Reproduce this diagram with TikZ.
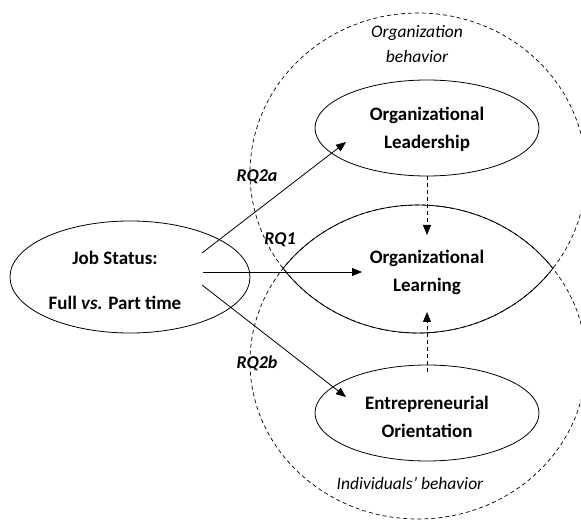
\documentclass[tikz,border=0pt]{standalone}
\usepackage{fontspec}
\setmainfont{Carlito}
\usetikzlibrary{arrows.meta,shapes.geometric,calc}

\begin{document}
\begin{tikzpicture}[x=1pt,y=-1pt,
  shape box/.style={draw, ellipse, line width=0.8pt, inner sep=0pt},
  title/.style={font=\bfseries\fontsize{19}{28}\selectfont, align=center, inner sep=0pt},
  link/.style={-{Triangle[length=10pt,width=8pt]}, line width=0.8pt},
  dlink/.style={link, dash pattern=on 4pt off 3pt},
  zone/.style={line width=0.7pt, dash pattern=on 4pt off 3pt},
  rim/.style={line width=0.8pt},
  rq/.style={font=\bfseries\itshape\fontsize{18}{20}\selectfont, inner sep=0pt},
  zlabel/.style={font=\itshape\fontsize{17.5}{25}\selectfont, align=center, inner sep=0pt}]

\useasboundingbox (0,0) rectangle (581,521);
\clip (0,0) rectangle (581,521);

% two overlapping behaviour zones
\draw[zone] (418,173) ellipse [x radius=168, y radius=160];
\draw[zone] (418,362) ellipse [x radius=168, y radius=157];

% their overlap, outlined solid
\begin{scope}
  \clip (418,362) ellipse [x radius=168, y radius=157];
  \draw[rim] (418,173) ellipse [x radius=168, y radius=160];
\end{scope}
\begin{scope}
  \clip (418,173) ellipse [x radius=168, y radius=160];
  \draw[rim] (418,362) ellipse [x radius=168, y radius=157];
\end{scope}

% zone captions
\node[zlabel] (orgzone) at (417,44) {Organization\\behavior};
\node[zlabel] (indzone) at (410,483) {Individuals’ behavior};

% construct ellipses
\node[shape box, minimum width=240pt, minimum height=112pt] (job) at (130,277) {};
\node[shape box, minimum width=224pt, minimum height=96pt] (lead) at (427,128) {};
\node[shape box, minimum width=224pt, minimum height=96pt] (eo) at (427,413) {};

% construct names
\node[title, font=\bfseries\fontsize{19}{45}\selectfont] (jobtxt) at (115,280) {Job Status:\\Full \textit{vs.} Part time};
\node[title] (leadtxt) at (427,129) {Organizational\\Leadership};
\node[title] (learn) at (427,272) {Organizational\\Learning};
\node[title] (eotxt) at (427,417) {Entrepreneurial\\Orientation};

% research questions
\draw[link] ($(job.center)+(72,-24)$) -- ($(lead.center)+(-81,14)$);
\draw[link] ($(job.center)+(73,-5)$) -- ($(learn.center)+(-65,0)$);
\draw[link] ($(job.center)+(72,8)$) -- ($(eo.center)+(-81,-16)$);

\draw[dlink] (lead.south) -- ($(learn.center)+(0,-37)$);
\draw[dlink] ($(eo.north)+(0,7)$) -- ($(learn.center)+(0,40)$);

\node[rq] (rqa) at (257,177) {RQ2a};
\node[rq] (rqone) at (280,240) {RQ1};
\node[rq] (rqb) at (257,363) {RQ2b};
\end{tikzpicture}
\end{document}
